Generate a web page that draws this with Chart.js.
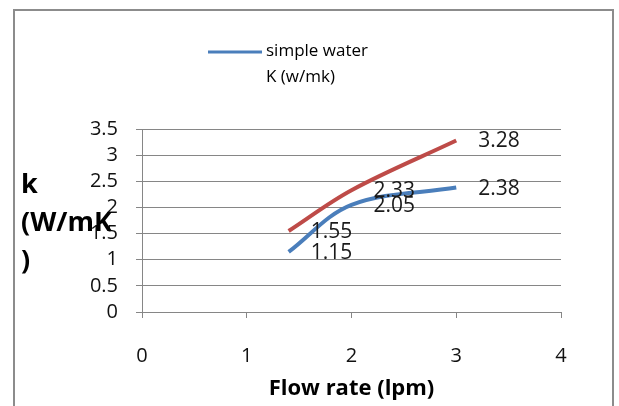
<!DOCTYPE html>
<html>
<head>
<meta charset="utf-8">
<script src="https://cdn.jsdelivr.net/npm/chart.js@4.4.0/dist/chart.umd.min.js"></script>
<style>
  html, body { margin: 0; padding: 0; background: #fff; }
  #wrap { position: relative; width: 619px; height: 406px; overflow: hidden; }
  #frame { position: absolute; left: 13px; top: 9px; width: 601px; height: 420px; border: 2px solid #8c8c8c; box-sizing: border-box; }
  #chart { position: absolute; left: 0; top: 0; }
</style>
</head>
<body>
<div id="wrap">
  <div id="frame"></div>
  <canvas id="chart" width="619" height="406"></canvas>
</div>
<script>
const flowRate = [1.4, 2, 3];
const simpleWater = [1.15, 2.05, 2.38];
const secondSeries = [1.55, 2.33, 3.28];
const xRange = [0, 4], xStep = 1;
const yRange = [0, 3.5], yStep = 0.5;
const legendLines = ['simple water', 'K (w/mk)'];
const yTitleLines = ['k', '(W/mK', ')'];
const xTitle = 'Flow rate (lpm)';

const FONT = '"Open Sans", "DejaVu Sans", sans-serif';
const BLUE = '#4a7ebb';
const RED = '#be4b48';

function toPoints(xs, ys) {
    return xs.map(function (x, i) { return { x: x, y: ys[i] }; });
}

// value labels right of each point
const valueLabels = {
    id: 'valueLabels',
    afterDatasetsDraw(chart) {
        const ctx = chart.ctx;
        ctx.save();
        ctx.font = '21px ' + FONT;
        ctx.fillStyle = '#1a1a1a';
        ctx.textAlign = 'left';
        ctx.textBaseline = 'middle';
        chart.data.datasets.forEach(function (ds, i) {
            chart.getDatasetMeta(i).data.forEach(function (pt, j) {
                ctx.fillText(String(ds.data[j].y), pt.x + 22, pt.y + 1);
            });
        });
        ctx.restore();
    }
};

// legend box + wrapped y-axis title, like the spreadsheet one
const extras = {
    id: 'extras',
    afterDraw(chart) {
        const ctx = chart.ctx;
        ctx.save();
        ctx.strokeStyle = BLUE;
        ctx.lineWidth = 3;
        ctx.beginPath();
        ctx.moveTo(208, 52);
        ctx.lineTo(262, 52);
        ctx.stroke();
        ctx.font = '17px ' + FONT;
        ctx.fillStyle = '#000';
        ctx.textBaseline = 'middle';
        ctx.fillText(legendLines[0], 266, 51);
        ctx.fillText(legendLines[1], 266, 77);

        ctx.font = 'bold 27px ' + FONT;
        yTitleLines.forEach(function (t, i) {
            ctx.fillText(t, 21, 185 + i * 38);
        });
        ctx.restore();
    }
};

const chart = new Chart(document.getElementById('chart'), {
    type: 'scatter',
    data: {
        datasets: [
            {
                label: 'simple water K (w/mk)',
                data: toPoints(flowRate, simpleWater),
                borderColor: BLUE,
                backgroundColor: BLUE,
                borderWidth: 4,
                showLine: true,
                tension: 0.35,
                pointRadius: 0
            },
            {
                label: '',
                data: toPoints(flowRate, secondSeries),
                borderColor: RED,
                backgroundColor: RED,
                borderWidth: 4,
                showLine: true,
                tension: 0.35,
                pointRadius: 0
            }
        ]
    },
    options: {
        responsive: false,
        animation: false,
        layout: { padding: { left: 0, right: 58, top: 129, bottom: 0 } },
        plugins: {
            legend: { display: false },
            tooltip: { enabled: false }
        },
        scales: {
            x: {
                type: 'linear',
                min: xRange[0],
                max: xRange[1],
                afterFit: function (s) { s.height = 94; },
                grid: { drawOnChartArea: false, drawTicks: true, tickLength: 6, color: '#868686' },
                border: { color: '#868686' },
                ticks: {
                    stepSize: xStep,
                    autoSkip: false,
                    color: '#111',
                    font: { family: FONT, size: 20 },
                    padding: 26,
                    callback: function (v) { return String(v); }
                },
                title: {
                    display: true,
                    text: xTitle,
                    color: '#000',
                    font: { family: FONT, size: 22, weight: 'bold' },
                    padding: { top: 0, bottom: 4 }
                }
            },
            y: {
                type: 'linear',
                min: yRange[0],
                max: yRange[1],
                afterFit: function (s) { s.width = 142; },
                grid: { color: '#868686', tickLength: 6 },
                border: { color: '#868686' },
                ticks: {
                    stepSize: yStep,
                    autoSkip: false,
                    color: '#111',
                    font: { family: FONT, size: 20 },
                    padding: 18,
                    callback: function (v) { return String(v); }
                }
            }
        }
    },
    plugins: [valueLabels, extras]
});
</script>
</body>
</html>
